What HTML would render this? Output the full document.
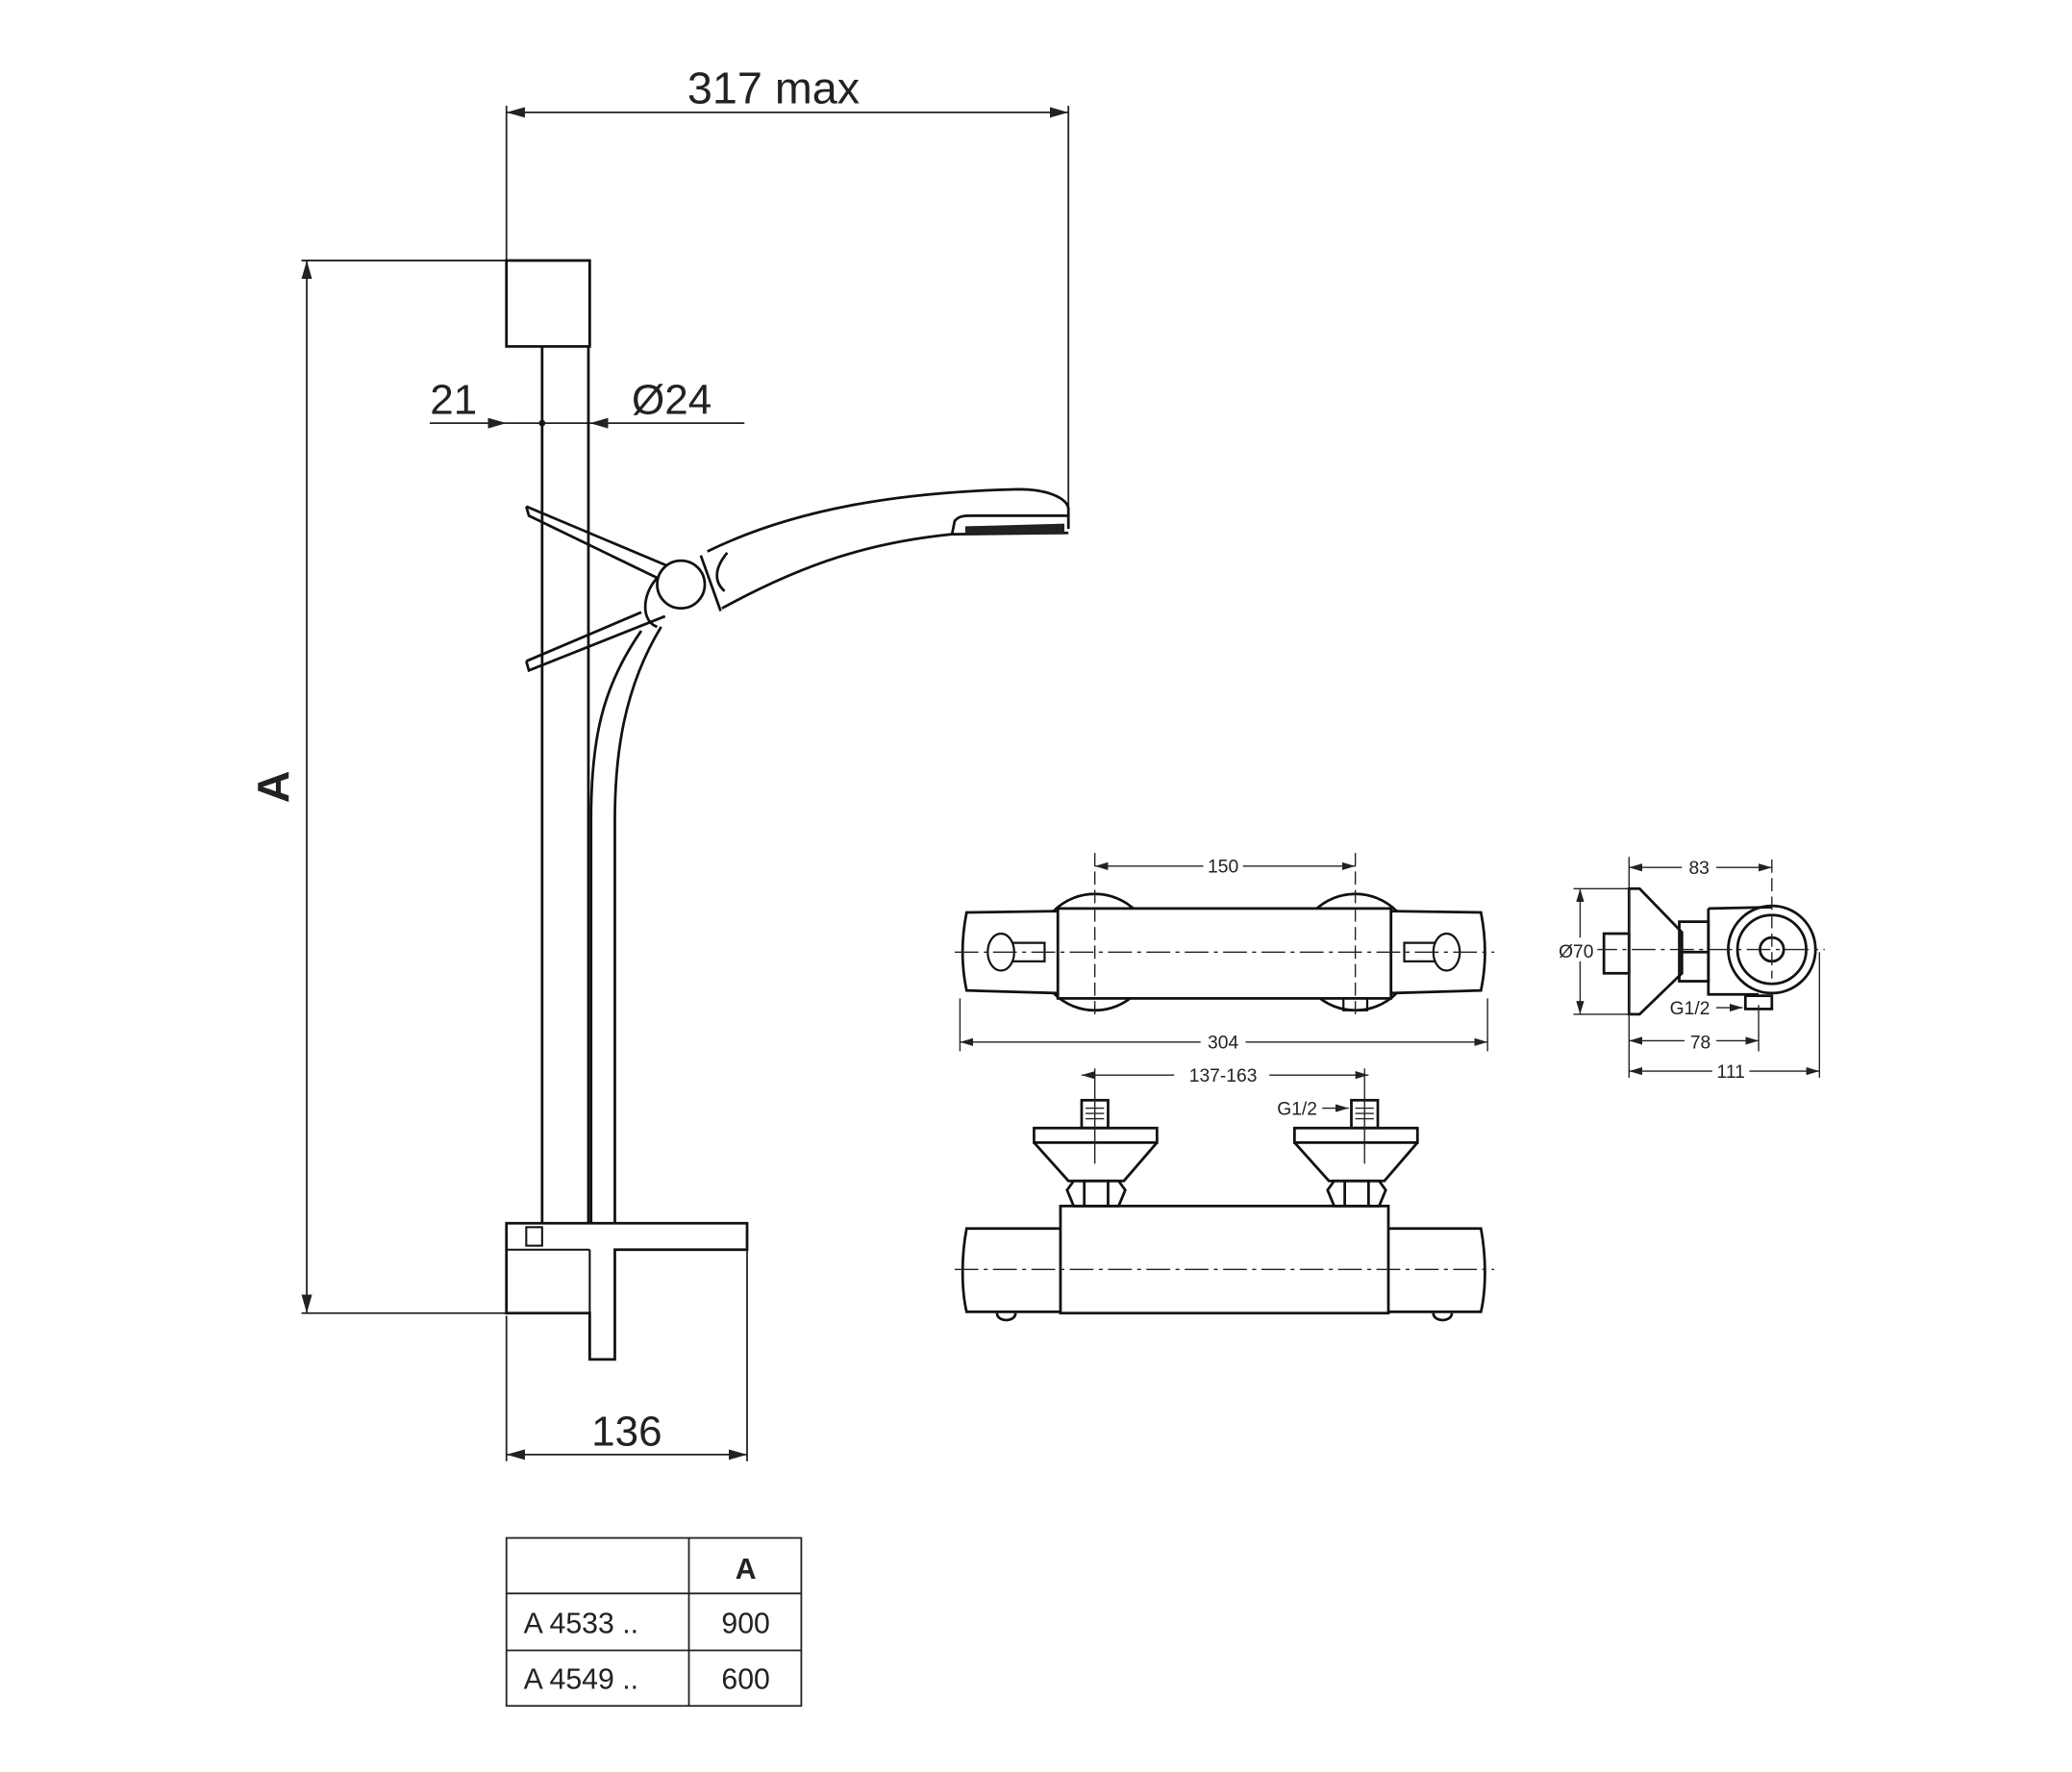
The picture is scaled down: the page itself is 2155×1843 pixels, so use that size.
<!DOCTYPE html>
<html><head><meta charset="utf-8"><style>
html,body{margin:0;padding:0;background:#fff;}
svg{display:block;}
text{font-family:"Liberation Sans",Arial,sans-serif;fill:#222;}
</style></head><body>
<svg width="2155" height="1843" viewBox="0 0 1567 1340" preserveAspectRatio="none" xmlns="http://www.w3.org/2000/svg">
<defs>
<marker id="a" viewBox="0 0 10 10" refX="10" refY="5" markerWidth="14" markerHeight="8" markerUnits="userSpaceOnUse" orient="auto-start-reverse" preserveAspectRatio="none">
<path d="M0,0 L10,5 L0,10 z" fill="#222"/></marker>
<marker id="s" viewBox="0 0 10 10" refX="10" refY="5" markerWidth="10" markerHeight="6" markerUnits="userSpaceOnUse" orient="auto-start-reverse" preserveAspectRatio="none">
<path d="M0,0 L10,5 L0,10 z" fill="#222"/></marker>
</defs>
<g fill="none" stroke="#222" stroke-width="1.3">
<line x1="383" y1="80" x2="383" y2="197"/>
<line x1="808" y1="80" x2="808" y2="398"/>
<line x1="383" y1="85" x2="808" y2="85" marker-start="url(#a)" marker-end="url(#a)"/>
<line x1="228" y1="197" x2="383" y2="197"/>
<line x1="228" y1="993" x2="383" y2="993"/>
<line x1="232" y1="197" x2="232" y2="993" marker-start="url(#a)" marker-end="url(#a)"/>
<line x1="325" y1="320" x2="383" y2="320" marker-end="url(#a)"/>
<line x1="563" y1="320" x2="446" y2="320" marker-end="url(#a)"/>
<line x1="383" y1="320" x2="446" y2="320"/>
<line x1="383" y1="995" x2="383" y2="1105"/>
<line x1="565" y1="945" x2="565" y2="1105"/>
<line x1="383" y1="1100" x2="565" y2="1100" marker-start="url(#a)" marker-end="url(#a)"/>
</g>
<circle cx="410" cy="320" r="2.5" fill="#222"/>
<g fill="none" stroke="#111" stroke-width="2">
<rect x="383" y="197" width="63" height="65"/>
<line x1="410" y1="262" x2="410" y2="925"/>
<line x1="445" y1="262" x2="445" y2="925"/>
<path d="M485,477 C455,520 447,560 447,620 L447,925"/>
<path d="M500,474 C472,520 465,570 465,620 L465,925"/>
<path d="M398,383 L400,390 L497,437"/>
<path d="M398,383 L505,428"/>
<path d="M497,437 C485,450 485,470 497,474"/>
<path d="M398,500 L400,507 L503,466"/>
<path d="M398,500 L485,463"/>
<circle cx="515" cy="442" r="18" fill="#fff"/>
<path d="M530,420 L545,462 Z"/>
<path d="M535,417 C600,385 680,372 770,370 C795,370 808,378 808,385 L808,400"/>
<path d="M546,460 C610,425 660,410 720,404 L808,403"/>
<path d="M550,418 C540,430 540,440 548,447"/>
<path d="M720,404 L722,394 C725,390 730,390 735,390 L808,390"/>
</g>
<path d="M730,404 L805,404 L805,396 L730,398 Z" fill="#222"/>
<path d="M383,925 L565,925 L565,945 L465,945 L465,1028 L446,1028 L446,993 L383,993 Z" fill="none" stroke="#111" stroke-width="2"/>
<line x1="383" y1="945" x2="446" y2="945" stroke="#111" stroke-width="1.5"/>
<rect x="398" y="928" width="12" height="14" fill="none" stroke="#111" stroke-width="1.5"/>
<line x1="446" y1="945" x2="446" y2="993" stroke="#111" stroke-width="1.5"/>

<text x="585" y="78" font-size="34" text-anchor="middle">317 max</text>
<text x="343" y="313" font-size="32" text-anchor="middle">21</text>
<text x="508" y="313" font-size="32" text-anchor="middle">Ø24</text>
<text x="474" y="1093" font-size="32" text-anchor="middle">136</text>
<text x="0" y="0" font-size="34" font-weight="bold" text-anchor="middle" transform="translate(218,595) rotate(-90)">A</text>

<g fill="none" stroke="#222" stroke-width="1.3">
<rect x="383" y="1163" width="223" height="127"/>
<line x1="383" y1="1205" x2="606" y2="1205"/>
<line x1="383" y1="1248" x2="606" y2="1248"/>
<line x1="521" y1="1163" x2="521" y2="1290"/>
</g>
<text x="564" y="1194" font-size="22" font-weight="bold" text-anchor="middle">A</text>
<text x="396" y="1235" font-size="22">A 4533 ..</text>
<text x="564" y="1235" font-size="22" text-anchor="middle">900</text>
<text x="396" y="1277" font-size="22">A 4549 ..</text>
<text x="564" y="1277" font-size="22" text-anchor="middle">600</text>

<g fill="none" stroke="#111" stroke-width="2">
<circle cx="828" cy="720" r="44"/>
<circle cx="1025" cy="720" r="44"/>
</g>
<rect x="800" y="687" width="252" height="68" fill="#fff" stroke="#111" stroke-width="2"/>
<path d="M731,690 L800,689 L800,751 L731,749 C727,730 727,710 731,690 Z" fill="#fff" stroke="#111" stroke-width="2"/>
<path d="M1120,690 L1052,689 L1052,751 L1120,749 C1124,730 1124,710 1120,690 Z" fill="#fff" stroke="#111" stroke-width="2"/>
<g fill="none" stroke="#111" stroke-width="1.6">
<ellipse cx="757" cy="720" rx="10" ry="14"/>
<path d="M766,713 L790,713 L790,727 L766,727"/>
<ellipse cx="1094" cy="720" rx="10" ry="14"/>
<path d="M1085,713 L1062,713 L1062,727 L1085,727"/>
<rect x="1016" y="755" width="18" height="9"/>
</g>
<g fill="none" stroke="#222" stroke-width="1">
<line x1="722" y1="720" x2="1130" y2="720" stroke-dasharray="18 4 3 4"/>
<line x1="828" y1="645" x2="828" y2="770" stroke-dasharray="10 4"/>
<line x1="1025" y1="645" x2="1025" y2="770" stroke-dasharray="10 4"/>
<line x1="726" y1="755" x2="726" y2="795"/>
<line x1="1125" y1="755" x2="1125" y2="795"/>
<line x1="828" y1="655" x2="1025" y2="655" marker-start="url(#s)" marker-end="url(#s)"/>
<line x1="726" y1="788" x2="1125" y2="788" marker-start="url(#s)" marker-end="url(#s)"/>
</g>
<rect x="910" y="645" width="30" height="18" fill="#fff"/>
<text x="925" y="660" font-size="14" text-anchor="middle">150</text>
<rect x="908" y="779" width="34" height="18" fill="#fff"/>
<text x="925" y="793" font-size="14" text-anchor="middle">304</text>

<g fill="none" stroke="#111" stroke-width="2">
<path d="M1232,672 L1240,672 L1272,705 L1272,736 L1240,767 L1232,767 Z"/>
<rect x="1213" y="706" width="19" height="30"/>
<rect x="1270" y="697" width="22" height="45"/>
<line x1="1270" y1="720" x2="1292" y2="720"/>
<path d="M1292,687 L1340,686 M1292,687 L1292,752 L1330,752"/>
<circle cx="1340" cy="718" r="33"/>
<circle cx="1340" cy="718" r="26"/>
<circle cx="1340" cy="718" r="9"/>
<rect x="1320" y="753" width="20" height="10"/>
</g>
<g fill="none" stroke="#222" stroke-width="1">
<line x1="1205" y1="718" x2="1380" y2="718" stroke-dasharray="18 4 3 4"/>
<line x1="1340" y1="650" x2="1340" y2="740" stroke-dasharray="10 4"/>
<line x1="1232" y1="648" x2="1232" y2="815"/>
<line x1="1376" y1="720" x2="1376" y2="815"/>
<line x1="1330" y1="760" x2="1330" y2="795"/>
<line x1="1190" y1="672" x2="1232" y2="672"/>
<line x1="1190" y1="767" x2="1232" y2="767"/>
<line x1="1195" y1="672" x2="1195" y2="767" marker-start="url(#s)" marker-end="url(#s)"/>
<line x1="1232" y1="656" x2="1340" y2="656" marker-start="url(#s)" marker-end="url(#s)"/>
<line x1="1232" y1="787" x2="1330" y2="787" marker-start="url(#s)" marker-end="url(#s)"/>
<line x1="1232" y1="810" x2="1376" y2="810" marker-start="url(#s)" marker-end="url(#s)"/>
<line x1="1298" y1="762" x2="1318" y2="762" marker-end="url(#s)"/>
</g>
<rect x="1272" y="646" width="26" height="18" fill="#fff"/>
<text x="1285" y="661" font-size="14" text-anchor="middle">83</text>
<rect x="1172" y="709" width="36" height="18" fill="#fff"/>
<text x="1192" y="724" font-size="14" text-anchor="middle">Ø70</text>
<rect x="1274" y="778" width="24" height="18" fill="#fff"/>
<text x="1286" y="793" font-size="14" text-anchor="middle">78</text>
<rect x="1295" y="801" width="28" height="18" fill="#fff"/>
<text x="1309" y="815" font-size="14" text-anchor="middle">111</text>
<text x="1278" y="767" font-size="14" text-anchor="middle">G1/2</text>

<g fill="none" stroke="#111" stroke-width="2">
<rect x="802" y="912" width="248" height="81"/>
<path d="M802,929 L731,929 C727,950 727,975 731,992 L802,992"/>
<path d="M1050,929 L1120,929 C1124,950 1124,975 1120,992 L1050,992"/>
<path d="M754,993 C754,1000 768,1000 768,993"/>
<path d="M1084,993 C1084,1000 1098,1000 1098,993"/>
<rect x="818" y="832" width="20" height="21"/>
<path d="M782,853 L875,853 L875,864 L782,864 Z"/>
<path d="M782,864 L808,893 L850,893 L875,864"/>
<path d="M812,893 L846,893 L851,900 L846,912 L812,912 L807,900 Z"/>
<line x1="820" y1="893" x2="820" y2="912"/>
<line x1="838" y1="893" x2="838" y2="912"/>
<rect x="1022" y="832" width="20" height="21"/>
<path d="M979,853 L1072,853 L1072,864 L979,864 Z"/>
<path d="M979,864 L1005,893 L1047,893 L1072,864"/>
<path d="M1009,893 L1043,893 L1048,900 L1043,912 L1009,912 L1004,900 Z"/>
<line x1="1017" y1="893" x2="1017" y2="912"/>
<line x1="1035" y1="893" x2="1035" y2="912"/>
</g>
<g stroke="#222" stroke-width="1">
<line x1="821" y1="838" x2="835" y2="838"/><line x1="821" y1="842" x2="835" y2="842"/><line x1="821" y1="846" x2="835" y2="846"/>
<line x1="1025" y1="838" x2="1039" y2="838"/><line x1="1025" y1="842" x2="1039" y2="842"/><line x1="1025" y1="846" x2="1039" y2="846"/>
</g>
<g fill="none" stroke="#222" stroke-width="1">
<line x1="722" y1="960" x2="1130" y2="960" stroke-dasharray="18 4 3 4"/>
<line x1="828" y1="808" x2="828" y2="880"/>
<line x1="1032" y1="808" x2="1032" y2="880"/>
<line x1="818" y1="813" x2="1035" y2="813" marker-start="url(#s)" marker-end="url(#s)"/>
<line x1="1000" y1="838" x2="1020" y2="838" marker-end="url(#s)"/>
</g>
<rect x="888" y="804" width="72" height="18" fill="#fff"/>
<text x="925" y="818" font-size="14" text-anchor="middle">137-163</text>
<text x="981" y="843" font-size="14" text-anchor="middle">G1/2</text>
</svg>
</body></html>
